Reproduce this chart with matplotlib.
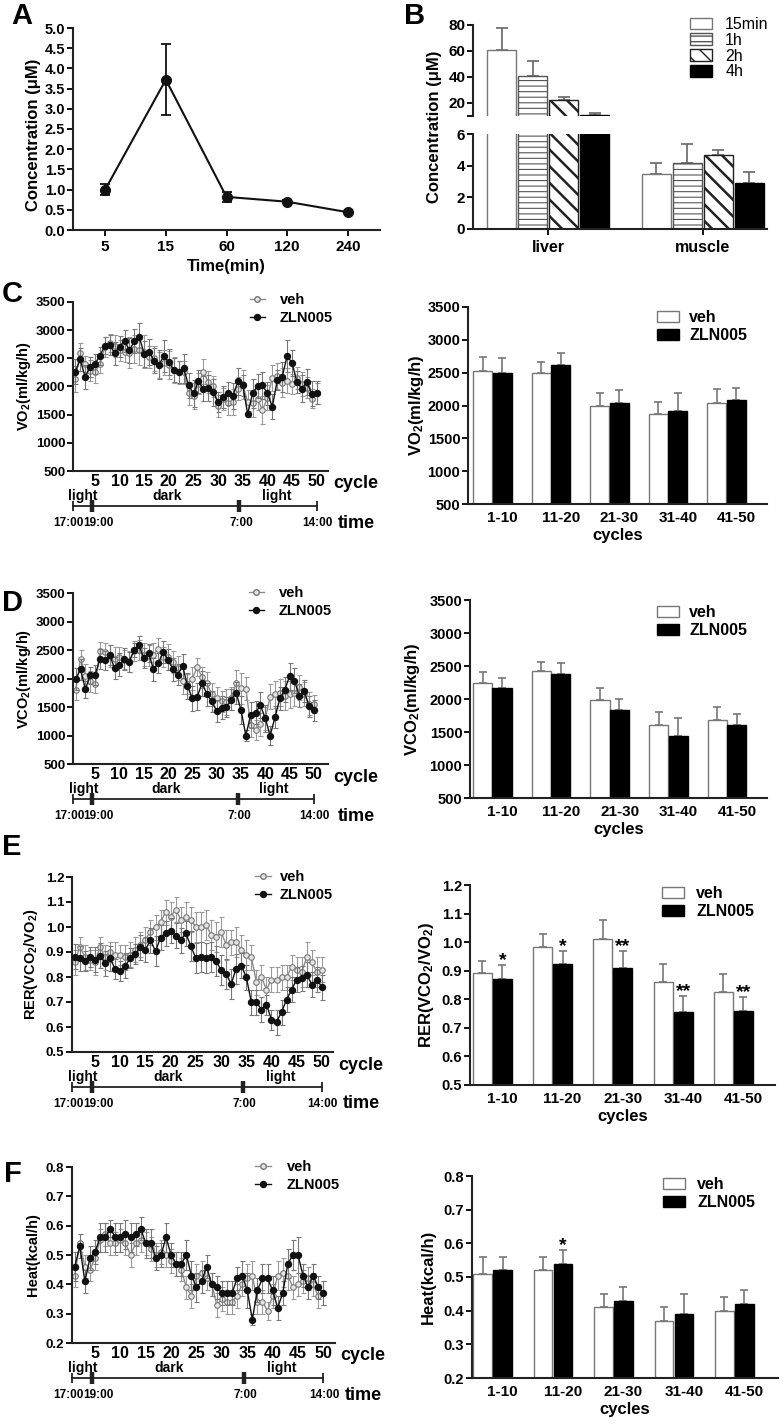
import matplotlib
matplotlib.use('Agg')
import matplotlib.pyplot as plt
import matplotlib.transforms as mtransforms
import numpy as np
from matplotlib.patches import Patch
from matplotlib.lines import Line2D

plt.rcParams['font.family'] = ['Liberation Sans', 'DejaVu Sans']
plt.rcParams['font.weight'] = 'bold'
plt.rcParams['axes.labelweight'] = 'bold'
plt.rcParams['mathtext.fontset'] = 'custom'
plt.rcParams['mathtext.rm'] = 'Liberation Sans:bold'
plt.rcParams['mathtext.it'] = 'Liberation Sans:bold'
plt.rcParams['mathtext.bf'] = 'Liberation Sans:bold'
plt.rcParams['mathtext.default'] = 'rm'

# ---------------- DATA ----------------
a_time = ['5', '15', '60', '120', '240']
a_conc = [1.0, 3.72, 0.82, 0.70, 0.44]
a_err = [0.13, 0.88, 0.13, 0.04, 0.03]

b_tissue = ['liver', 'muscle']
b_times = ['15min', '1h', '2h', '4h']
b_liver = [61, 41, 22, 11]
b_liver_err = [17, 11.5, 2.5, 1.0]
b_muscle = [3.5, 4.2, 4.7, 2.9]
b_muscle_err = [0.7, 1.2, 0.3, 0.7]

cycles = list(range(1, 51))
cycle_ticks = [5, 10, 15, 20, 25, 30, 35, 40, 45, 50]
groups = ['1-10', '11-20', '21-30', '31-40', '41-50']
series = ['veh', 'ZLN005']
phase_names = ['light', 'dark', 'light']
phase_x = [2.6, 19.6, 41.8]
time_names = ['17:00', '19:00', '7:00', '14:00']
time_marks = [0.5, 4.4, 34.3, 50.0]

c_veh = [2130, 2600, 2400, 2280, 2250, 2400, 2700, 2780, 2720, 2640,
         2620, 2600, 2660, 2640, 2620, 2520, 2500, 2380, 2420, 2380,
         2300, 2250, 2250, 1880, 1830, 2050, 2260, 2080, 2000, 1650,
         1780, 1700, 1720, 1960, 2040, 1720, 1700, 1780, 1580, 1800,
         2150, 2180, 2070, 2100, 2040, 2150, 2050, 1980, 1780, 1880]
c_veh_err = [230, 170, 150, 190, 180, 160, 170, 160, 200, 180,
             190, 280, 250, 260, 300, 200, 220, 230, 220, 250,
             230, 200, 210, 200, 230, 190, 220, 200, 180, 200,
             190, 210, 230, 200, 260, 210, 240, 200, 250, 220,
             230, 230, 250, 220, 180, 200, 210, 190, 170, 190]
c_zln = [2260, 2480, 2170, 2350, 2400, 2550, 2720, 2740, 2590, 2710,
         2810, 2640, 2810, 2870, 2580, 2610, 2460, 2390, 2540, 2430,
         2290, 2260, 2320, 2020, 1880, 2090, 1960, 1980, 1900, 1720,
         1810, 1880, 1830, 2090, 2020, 1510, 1880, 2010, 2020, 1880,
         1640, 2110, 2170, 2540, 2420, 2080, 1960, 2080, 1870, 1890]
c_zln_err = [220, 200, 220, 180, 180, 160, 150, 180, 200, 190,
             200, 220, 210, 260, 230, 230, 220, 250, 280, 230,
             210, 200, 250, 220, 240, 200, 220, 230, 240, 180,
             200, 200, 230, 240, 190, 60, 260, 210, 240, 200,
             220, 180, 260, 280, 230, 200, 240, 230, 220, 200]

d_veh = [1800, 2350, 2050, 1950, 1900, 2480, 2470, 2400, 2350, 2380,
         2330, 2300, 2480, 2500, 2420, 2400, 2420, 2520, 2380, 2380,
         2290, 2180, 1950, 1900, 2000, 2200, 2020, 1920, 1720, 1650,
         1600, 1590, 1650, 1920, 1830, 1820, 1180, 1100, 1200, 1300,
         1680, 1720, 1750, 1700, 1720, 1750, 1850, 1720, 1560, 1550]
d_veh_err = [170, 150, 200, 180, 160, 160, 160, 190, 200, 180,
             170, 180, 170, 170, 200, 180, 200, 190, 180, 230,
             200, 210, 220, 180, 200, 160, 180, 190, 200, 200,
             180, 230, 200, 230, 270, 200, 200, 180, 200, 200,
             220, 230, 240, 250, 240, 230, 220, 210, 200, 160]
d_zln = [1990, 2160, 1810, 2060, 2060, 2340, 2320, 2410, 2180, 2240,
         2340, 2290, 2500, 2590, 2360, 2450, 2160, 2270, 2460, 2330,
         2160, 2070, 2220, 1870, 1650, 1680, 1920, 1720, 1600, 1430,
         1490, 1500, 1630, 1750, 1450, 1000, 1360, 1400, 1530, 1300,
         1000, 1320, 1650, 1800, 2040, 1960, 1700, 1780, 1510, 1440]
d_zln_err = [200, 180, 150, 150, 170, 180, 170, 180, 190, 200,
             190, 170, 130, 150, 180, 160, 200, 170, 190, 180,
             200, 180, 210, 230, 220, 240, 220, 200, 180, 190,
             200, 170, 180, 190, 240, 90, 220, 200, 230, 240,
             170, 190, 200, 220, 240, 220, 200, 190, 180, 180]

e_veh = [0.86, 0.92, 0.88, 0.87, 0.86, 0.92, 0.88, 0.90, 0.89, 0.89,
         0.88, 0.89, 0.91, 0.93, 0.95, 0.98, 1.00, 1.02, 1.06, 1.04,
         1.07, 1.03, 1.04, 1.03, 1.00, 1.00, 1.01, 0.97, 0.96, 0.98,
         0.93, 0.94, 0.94, 0.91, 0.89, 0.88, 0.78, 0.80, 0.75, 0.79,
         0.79, 0.80, 0.80, 0.84, 0.83, 0.82, 0.88, 0.86, 0.82, 0.83]
e_veh_err = [0.05, 0.04, 0.05, 0.04, 0.05, 0.04, 0.05, 0.04, 0.05, 0.04,
             0.05, 0.05, 0.05, 0.05, 0.05, 0.05, 0.05, 0.05, 0.05, 0.06,
             0.05, 0.05, 0.06, 0.05, 0.06, 0.06, 0.06, 0.06, 0.06, 0.06,
             0.06, 0.05, 0.06, 0.06, 0.06, 0.05, 0.05, 0.05, 0.05, 0.05,
             0.05, 0.05, 0.05, 0.05, 0.05, 0.06, 0.06, 0.05, 0.06, 0.05]
e_zln = [0.882, 0.875, 0.866, 0.882, 0.869, 0.885, 0.855, 0.875, 0.831, 0.823,
         0.845, 0.875, 0.892, 0.920, 0.910, 0.947, 0.903, 0.958, 0.975, 0.986,
         0.966, 0.947, 0.975, 0.924, 0.875, 0.882, 0.875, 0.882, 0.864, 0.827,
         0.813, 0.772, 0.834, 0.845, 0.800, 0.700, 0.700, 0.670, 0.690, 0.630,
         0.620, 0.660, 0.710, 0.750, 0.790, 0.795, 0.810, 0.770, 0.790, 0.760]
e_zln_err = [0.05, 0.05, 0.04, 0.04, 0.05, 0.05, 0.05, 0.05, 0.04, 0.04,
             0.05, 0.04, 0.04, 0.05, 0.05, 0.05, 0.06, 0.05, 0.05, 0.05,
             0.05, 0.05, 0.05, 0.06, 0.06, 0.06, 0.06, 0.06, 0.06, 0.06,
             0.06, 0.06, 0.06, 0.05, 0.05, 0.05, 0.05, 0.05, 0.04, 0.04,
             0.05, 0.05, 0.05, 0.05, 0.05, 0.05, 0.05, 0.05, 0.05, 0.05]

f_veh = [0.43, 0.54, 0.46, 0.45, 0.49, 0.55, 0.57, 0.54, 0.54, 0.55,
         0.54, 0.50, 0.54, 0.55, 0.54, 0.52, 0.50, 0.51, 0.50, 0.48,
         0.47, 0.45, 0.39, 0.36, 0.43, 0.44, 0.42, 0.40, 0.33, 0.35,
         0.34, 0.34, 0.36, 0.40, 0.42, 0.43, 0.34, 0.34, 0.31, 0.36,
         0.43, 0.44, 0.43, 0.39, 0.40, 0.41, 0.42, 0.40, 0.36, 0.37]
f_veh_err = [0.04, 0.03, 0.04, 0.04, 0.04, 0.04, 0.04, 0.04, 0.04, 0.04,
             0.04, 0.04, 0.04, 0.04, 0.04, 0.04, 0.04, 0.04, 0.04, 0.04,
             0.04, 0.04, 0.04, 0.04, 0.04, 0.04, 0.04, 0.04, 0.04, 0.04,
             0.04, 0.04, 0.04, 0.04, 0.05, 0.05, 0.04, 0.04, 0.03, 0.04,
             0.05, 0.05, 0.05, 0.04, 0.04, 0.04, 0.04, 0.04, 0.04, 0.04]
f_zln = [0.46, 0.53, 0.41, 0.49, 0.51, 0.56, 0.56, 0.59, 0.56, 0.56,
         0.57, 0.56, 0.57, 0.59, 0.54, 0.54, 0.49, 0.50, 0.56, 0.50,
         0.47, 0.47, 0.50, 0.43, 0.39, 0.41, 0.46, 0.40, 0.39, 0.37,
         0.37, 0.37, 0.42, 0.43, 0.38, 0.28, 0.38, 0.42, 0.42, 0.38,
         0.32, 0.37, 0.47, 0.50, 0.50, 0.43, 0.39, 0.43, 0.39, 0.37]
f_zln_err = [0.05, 0.04, 0.04, 0.04, 0.04, 0.05, 0.05, 0.03, 0.05, 0.05,
             0.05, 0.05, 0.04, 0.04, 0.05, 0.05, 0.04, 0.04, 0.05, 0.04,
             0.04, 0.04, 0.05, 0.05, 0.05, 0.04, 0.04, 0.04, 0.04, 0.04,
             0.04, 0.04, 0.04, 0.05, 0.06, 0.02, 0.04, 0.05, 0.05, 0.05,
             0.04, 0.04, 0.05, 0.05, 0.06, 0.04, 0.04, 0.04, 0.04, 0.04]

cb_veh = [2525, 2495, 1990, 1865, 2040]
cb_veh_err = [215, 175, 200, 195, 210]
cb_zln = [2500, 2610, 2040, 1910, 2080]
cb_zln_err = [230, 190, 190, 280, 180]

db_veh = [2240, 2420, 1990, 1600, 1680]
db_veh_err = [175, 145, 170, 200, 195]
db_zln = [2160, 2385, 1840, 1440, 1600]
db_zln_err = [165, 155, 160, 270, 180]

eb_veh = [0.892, 0.983, 1.012, 0.862, 0.827]
eb_veh_err = [0.043, 0.047, 0.064, 0.062, 0.060]
eb_zln = [0.872, 0.925, 0.908, 0.755, 0.760]
eb_zln_err = [0.048, 0.044, 0.062, 0.057, 0.048]
eb_stars = ['*', '*', '**', '**', '**']

fb_veh = [0.51, 0.52, 0.41, 0.37, 0.40]
fb_veh_err = [0.05, 0.04, 0.04, 0.04, 0.04]
fb_zln = [0.52, 0.54, 0.43, 0.39, 0.42]
fb_zln_err = [0.04, 0.04, 0.04, 0.06, 0.04]
fb_stars = ['', '*', '', '', '']

# ---------------- FIGURE ----------------
W, H = 784, 1425
fig = plt.figure(figsize=(W / 100, H / 100), dpi=100)
SP = '#222222'


def add_ax(l, t, r, b):
    return fig.add_axes([l / W, 1 - b / H, (r - l) / W, (b - t) / H])


def style(ax, bottom=True, left=True):
    for s in ['top', 'right']:
        ax.spines[s].set_visible(False)
    ax.spines['left'].set_visible(left)
    ax.spines['bottom'].set_visible(bottom)
    for s in ['left', 'bottom']:
        ax.spines[s].set_linewidth(1.5)
        ax.spines[s].set_color(SP)


def panel_letter(txt, x, y):
    fig.text(x / W, 1 - y / H, txt, fontsize=21, fontweight='bold', ha='left', va='top')


def place_legend(ax, handles, labels, x_px, ytop_px, fs, hl, hh, pad, ls, weight='bold'):
    ax.legend(handles, labels, loc='upper left',
              bbox_to_anchor=(x_px / W, 1 - ytop_px / H), bbox_transform=fig.transFigure,
              frameon=False, borderpad=0, borderaxespad=0, handlelength=hl, handleheight=hh,
              handletextpad=pad, labelspacing=ls, prop={'size': fs, 'weight': weight})


# ---- Panel A ----
axA = add_ax(73, 28, 380, 230)
style(axA)
xa = np.arange(len(a_time))
axA.errorbar(xa, a_conc, yerr=a_err, color='#111', lw=1.5, marker='o', ms=7,
             capsize=3.5, elinewidth=1.3, capthick=1.3)
axA.set_xlim(-0.53, 4.53)
axA.set_ylim(0, 5)
yt = np.arange(0, 5.01, 0.5)
axA.set_yticks(yt, ['%.1f' % v for v in yt])
axA.set_xticks(xa, a_time)
axA.tick_params(axis='y', length=4, width=1.3, labelsize=10.5, pad=1.5)
axA.tick_params(axis='x', length=4, width=1.3, labelsize=11, pad=3)
axA.set_xlabel('Time(min)', fontsize=12, labelpad=4)
axA.set_ylabel('Concentration (μM)', fontsize=12)
axA.yaxis.set_label_coords((41 - 73) / 307, 0.47)
panel_letter('A', 11, 2)

# ---- Panel B (broken axis) ----
axBu = add_ax(473, 25, 767, 116)
axBl = add_ax(473, 134, 767, 229)
style(axBu, bottom=False)
style(axBl)
xb = np.arange(len(b_tissue))
b_off = [-0.3, -0.1, 0.1, 0.3]
b_face = ['white', 'white', 'white', 'black']
b_edge = ['#777777', '#555555', '#222222', 'black']
b_hatch = ['', '---', '\\\\', '']
b_hlw = [1.0, 0.8, 1.8, 1.0]
bw = 0.19
bars_for_legend = []
for i in range(4):
    vals = [b_liver[i], b_muscle[i]]
    errs = [b_liver_err[i], b_muscle_err[i]]
    for ax in (axBu, axBl):
        with plt.rc_context({'hatch.linewidth': b_hlw[i]}):
            bc = ax.bar(xb + b_off[i], vals, bw, color=b_face[i], edgecolor=b_edge[i],
                        hatch=b_hatch[i], lw=1.0, zorder=2)
        ax.errorbar(xb + b_off[i], vals, yerr=[[0, 0], errs], fmt='none', ecolor='#666',
                    elinewidth=1.2, capsize=4, capthick=1.2, zorder=1)
        if ax is axBu:
            bars_for_legend.append(bc)
for ax in (axBu, axBl):
    ax.set_xlim(-0.484, 1.413)
axBu.set_ylim(10, 80)
axBl.set_ylim(0, 6)
axBu.set_yticks([10, 20, 40, 60, 80], ['', '20', '40', '60', '80'])
axBl.set_yticks([0, 2, 4, 6])
axBu.set_xticks([])
axBl.set_xticks(xb, b_tissue)
for ax in (axBu, axBl):
    ax.tick_params(axis='y', length=4, width=1.3, labelsize=11, pad=1.5)
axBl.tick_params(axis='x', length=4, width=1.3, labelsize=11.5, pad=4)
fig.text(435 / W, 1 - 127 / H, 'Concentration (μM)', rotation=90, ha='center', va='center',
         fontsize=12, fontweight='bold')
place_legend(axBu, bars_for_legend, b_times, 690, 17, 11.5, 1.4, 0.75, 0.8, 0.05, weight='normal')
panel_letter('B', 404, 2)


# ---- helpers for C-F ----
def ts_panel(box, xl, yl, yticks, yfmt, veh, veh_e, zln, zln_e, ylabel, ylab_right, leg):
    l, t, r, b = box
    w, h = r - l, b - t
    ax = add_ax(l, t, r, b)
    style(ax)
    ax.errorbar(cycles, veh, yerr=veh_e, fmt='-o', color='#8c8c8c', mfc='#e4e4e4', mec='#777777',
                ms=4, mew=0.8, lw=1.0, ecolor='#9a9a9a', elinewidth=0.8, capsize=1.8, capthick=0.8,
                zorder=2)
    ax.errorbar(cycles, zln, yerr=zln_e, fmt='-o', color='#111111', mfc='#111111', mec='#111111',
                ms=4.3, lw=1.0, ecolor='#777777', elinewidth=0.8, capsize=1.8, capthick=0.8,
                zorder=3)
    ax.set_xlim(xl)
    ax.set_ylim(yl)
    ax.set_yticks(yticks, [yfmt % v for v in yticks])
    ax.set_xticks(cycle_ticks)
    ax.tick_params(axis='x', length=0, pad=2.5, labelsize=11.5)
    ax.tick_params(axis='y', length=4, width=1.3, pad=1.5, labelsize=9.5)
    ax.set_ylabel(ylabel, fontsize=10.5)
    ax.yaxis.set_label_coords((ylab_right - l) / w, 0.5)
    trans = mtransforms.blended_transform_factory(ax.transData, ax.transAxes)
    yline = -35 / h
    ax.plot([time_marks[0], time_marks[-1]], [yline, yline], color=SP, lw=1.3,
            transform=trans, clip_on=False)
    ax.plot([time_marks[0], time_marks[-1]], [yline, yline], ls='none', marker='|', ms=7,
            mew=1.3, color=SP, transform=trans, clip_on=False)
    ax.plot(time_marks[1:3], [yline, yline], ls='none', marker='|', ms=8, mew=3.2,
            color=SP, transform=trans, clip_on=False)
    for name, px in zip(phase_names, phase_x):
        ax.text(px, -25 / h, name, transform=trans, ha='center', va='center', fontsize=10)
    dxs = [-4, 6, 2, 1]
    for name, mx, dx in zip(time_names, time_marks, dxs):
        ax.annotate(name, xy=(mx, -52 / h), xycoords=trans, xytext=(dx, 0),
                    textcoords='offset pixels', ha='center', va='center', fontsize=8.5)
    ax.text(1 + 5 / w, -13 / h, 'cycle', transform=ax.transAxes, ha='left', va='center',
            fontsize=13)
    ax.text(1 + 10 / w, -52 / h, 'time', transform=ax.transAxes, ha='left', va='center',
            fontsize=13)
    hx, ytop, hl, pad = leg
    handles = [Line2D([0], [0], color='#8c8c8c', marker='o', mfc='#e4e4e4', mec='#777777', ms=4,
                      lw=1.0),
               Line2D([0], [0], color='#111111', marker='o', mfc='#111111', ms=4.3, lw=1.0)]
    place_legend(ax, handles, series, hx, ytop, 10.5, hl, 0.7, pad, 0.25)
    return ax


def bar_panel(box, xl, yl, yticks, yfmt, veh, veh_e, zln, zln_e, ylabel, ylab_right,
              width, off, lab_off, leg, stars=None):
    l, t, r, b = box
    w, h = r - l, b - t
    ax = add_ax(l, t, r, b)
    style(ax)
    x = np.arange(len(groups))
    ax.bar(x - off, veh, width, color='white', edgecolor='#777777', lw=1.0, zorder=2)
    ax.bar(x + off, zln, width, color='black', edgecolor='black', lw=1.0, zorder=2)
    z = np.zeros(len(groups))
    ax.errorbar(x - off, veh, yerr=[z, veh_e], fmt='none', ecolor='#777777', elinewidth=1.2,
                capsize=3, capthick=1.2, zorder=1)
    ax.errorbar(x + off, zln, yerr=[z, zln_e], fmt='none', ecolor='#777777', elinewidth=1.2,
                capsize=3, capthick=1.2, zorder=1)
    if stars is not None:
        for xi, v, e, s in zip(x + off, zln, zln_e, stars):
            if s:
                ax.annotate(s, xy=(xi, v + e), xytext=(0, 0), textcoords='offset points',
                            ha='center', va='baseline', fontsize=14)
    ax.set_xlim(xl)
    ax.set_ylim(yl)
    ax.set_yticks(yticks, [yfmt % v for v in yticks])
    ax.set_xticks(x + lab_off, groups)
    ax.tick_params(axis='x', length=0, pad=5, labelsize=11)
    ax.tick_params(axis='y', length=4, width=1.3, pad=1.5, labelsize=10.5)
    ax.set_xlabel('cycles', fontsize=12, labelpad=2)
    ax.set_ylabel(ylabel, fontsize=12)
    ax.yaxis.set_label_coords((ylab_right - l) / w, 0.5)
    hx, ytop, pad = leg
    handles = [Patch(facecolor='white', edgecolor='#777777', lw=1.0),
               Patch(facecolor='black', edgecolor='black', lw=1.0)]
    place_legend(ax, handles, series, hx, ytop, 11.5, 1.37, 0.65, pad, 0.2)
    return ax


vo_ticks = [500, 1000, 1500, 2000, 2500, 3000, 3500]
rer_ticks = [0.5, 0.6, 0.7, 0.8, 0.9, 1.0, 1.1, 1.2]
heat_ticks = [0.2, 0.3, 0.4, 0.5, 0.6, 0.7, 0.8]

# ---- C ----
ts_panel((73, 302, 328, 471), (0.54, 52.3), (500, 3500), vo_ticks, '%d', c_veh, c_veh_err,
         c_zln, c_zln_err, 'VO$_2$(ml/kg/h)', 33, (250, 293, 1.0, 1.05))
bar_panel((468, 307, 767, 504), (-0.42, 4.69), (500, 3500), vo_ticks, '%d', cb_veh, cb_veh_err,
          cb_zln, cb_zln_err, 'VO$_2$(ml/kg/h)', 426, 0.325, 0.165, 0.17, (657, 310, 0.65))
panel_letter('C', 2, 280)

# ---- D ----
ts_panel((73, 593, 328, 764), (0.45, 52.9), (500, 3500), vo_ticks, '%d', d_veh, d_veh_err,
         d_zln, d_zln_err, 'VCO$_2$(ml/kg/h)', 33, (249, 586, 1.0, 1.05))
bar_panel((470, 600, 767, 798), (-0.38, 4.68), (500, 3500), vo_ticks, '%d', db_veh, db_veh_err,
          db_zln, db_zln_err, 'VCO$_2$(ml/kg/h)', 422, 0.325, 0.165, 0.17, (657, 605, 0.65))
panel_letter('D', 2, 589)

# ---- E ----
ts_panel((72, 877, 333, 1052), (0.44, 52.2), (0.5, 1.2), rer_ticks, '%.1f', e_veh, e_veh_err,
         e_zln, e_zln_err, 'RER(VCO$_2$/VO$_2$)', 40, (255, 870, 1.08, 0.6))
bar_panel((470, 885, 775, 1085), (-0.37, 4.69), (0.5, 1.2), rer_ticks, '%.1f', eb_veh, eb_veh_err,
          eb_zln, eb_zln_err, 'RER(VCO$_2$/VO$_2$)', 436, 0.315, 0.166, 0.166, (662, 886, 0.78),
          stars=eb_stars)
panel_letter('E', 2, 833)

# ---- F ----
ts_panel((72, 1167, 335, 1343), (0.46, 52.3), (0.2, 0.8), heat_ticks, '%.1f', f_veh, f_veh_err,
         f_zln, f_zln_err, 'Heat(kcal/h)', 40, (255, 1160, 1.08, 1.08))
bar_panel((472, 1176, 778, 1378), (-0.34, 4.72), (0.2, 0.8), heat_ticks, '%.1f', fb_veh, fb_veh_err,
          fb_zln, fb_zln_err, 'Heat(kcal/h)', 436, 0.31, 0.165, 0.165, (663, 1177, 0.78),
          stars=fb_stars)
panel_letter('F', 4, 1160)

fig.savefig('out.png', dpi=100)
